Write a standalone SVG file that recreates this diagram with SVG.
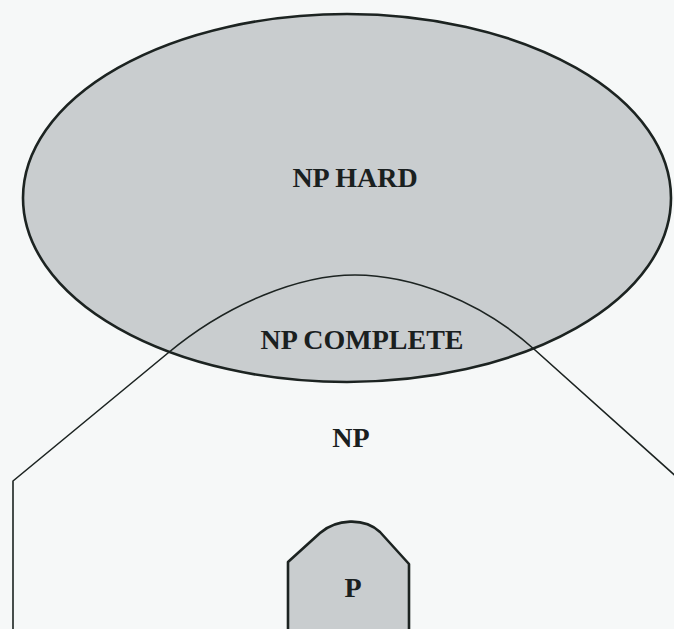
<svg xmlns="http://www.w3.org/2000/svg" width="674" height="629" viewBox="0 0 674 629">
  <style>
    .set-fill { fill: #c9cdcf; }
    .outline { fill: none; stroke: #1c2321; stroke-linejoin: round; }
    .label { font-family: "Liberation Serif", "DejaVu Serif", serif; font-weight: bold; font-size: 28px; fill: #1a201f; text-anchor: middle; }
  </style>
  <rect x="0" y="0" width="674" height="629" fill="#f6f8f8"/>

  <!-- NP-hard problems: the large ellipse -->
  <g id="np-hard">
    <ellipse class="outline" cx="347" cy="198" rx="324" ry="184" style="fill:#c9cdcf" stroke-width="2.6"/>
    <text class="label" x="355" y="187">NP HARD</text>
  </g>

  <!-- NP: open region bounded by a bell-shaped top -->
  <g id="np">
    <path class="outline" stroke-width="1.6"
          d="M13,640 L13,481 L168,353 C228,303 300,275 355,275 C410,275 480,300 535,350 L690,489"/>
    <text class="label" x="351" y="447">NP</text>
  </g>

  <!-- NP-complete: overlap of NP and NP-hard -->
  <g id="np-complete">
    <text class="label" x="362" y="349">NP COMPLETE</text>
  </g>

  <!-- P: inside NP -->
  <g id="p">
    <path class="outline" style="fill:#c9cdcf" stroke-width="2.6"
          d="M288,640 L288,562 L320,533 C336,519 364,517 380,532 L409,564 L409,640"/>
    <text class="label" x="353" y="597">P</text>
  </g>
</svg>
